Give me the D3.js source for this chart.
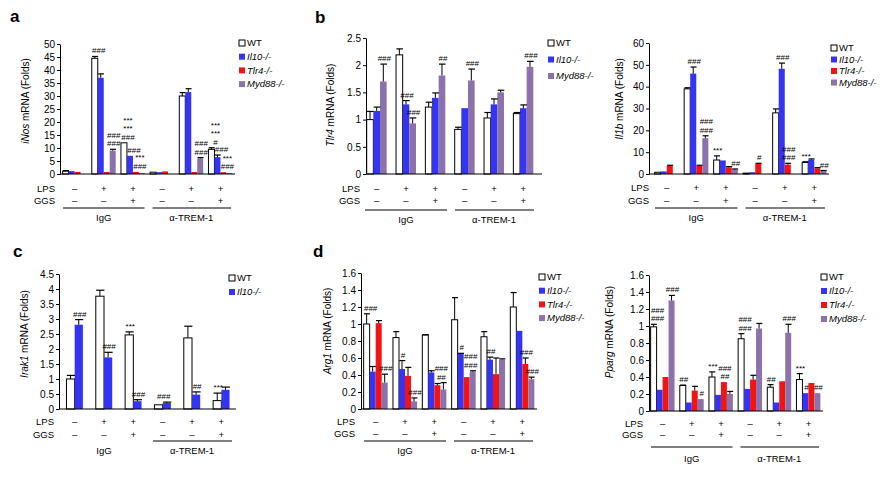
<!DOCTYPE html>
<html><head><meta charset="utf-8">
<script src="https://cdn.jsdelivr.net/npm/d3@7"></script>
<style>body{margin:0;background:#fff} text{font-family:"Liberation Sans",Arial,sans-serif;fill:#000}</style>
</head><body><svg id="chart" width="882" height="480"></svg>
<script>
// ---------- shared categories ----------
const lpsRow = ["–","+","+","–","+","+"];
const ggsRow = ["–","–","+","–","–","+"];
const treatments = ["IgG","α-TREM-1"];
const colors = {"WT":"#ffffff","Il10-/-":"#3434f2","Tlr4-/-":"#f01414","Myd88-/-":"#8b72aa"};

// ---------- a: iNos ----------
const iNosSeries = ["WT","Il10-/-","Tlr4-/-","Myd88-/-"];
const iNosWT    = [1.1, 44.5, 12, 0.7, 30, 9.5];
const iNosWTe   = [0.2, 0.7, 0, 0, 1.3, 0.6];
const iNosIl10  = [1.1, 37, 7, 0.7, 31.5, 6.5];
const iNosIl10e = [0, 1.5, 0, 0, 1.3, 0.8];
const iNosTlr4  = [0.8, 0.8, 0.8, 1.0, 0.8, 0.7];
const iNosTlr4e = [0, 0, 0, 0, 0, 0];
const iNosMyd   = [0, 9, 0.4, 0, 6, 0.4];
const iNosMyde  = [0, 0.5, 0, 0, 0.3, 0];
const iNosMarks = [[1,0.5,["###"]],[1,3,["###","###"]],[2,0.5,["***","***","###"]],[2,1.5,["###"]],[2,2.5,["***","###"]],
                   [4,3,["###","###"]],[5,0.5,["***","***","#"]],[5,1.5,["###"]],[5,2.5,["***","###"]]];

// ---------- b: Tlr4 ----------
const tlr4Series = ["WT","Il10-/-","Myd88-/-"];
const tlr4WT    = [1.0, 2.19, 1.23, 0.82, 1.03, 1.11];
const tlr4WTe   = [0.15, 0.11, 0.09, 0.04, 0.1, 0.02];
const tlr4Il10  = [1.16, 1.28, 1.40, 1.21, 1.28, 1.21];
const tlr4Il10e = [0.07, 0.07, 0.09, 0, 0.1, 0.06];
const tlr4Myd   = [1.70, 0.93, 1.81, 1.72, 1.50, 1.97];
const tlr4Myde  = [0.32, 0.1, 0.21, 0.21, 0.04, 0.1];
const tlr4Marks = [[0,2,["###"]],[1,1,["###"]],[1,2,["###"]],[2,2,["##"]],[3,2,["###"]],[5,2,["###"]]];

// ---------- b: Il1b ----------
const il1bSeries = ["WT","Il10-/-","Tlr4-/-","Myd88-/-"];
const il1bWT    = [0.8, 39, 6.4, 0.4, 28, 5.3];
const il1bWTe   = [0, 0.5, 1.9, 0, 1.8, 0.3];
const il1bIl10  = [1.2, 46, 6.2, 0.8, 48.2, 6.5];
const il1bIl10e = [0, 3, 0, 0, 2.6, 0.4];
const il1bTlr4  = [3.7, 3.7, 3.1, 4.6, 4.3, 2.6];
const il1bTlr4e = [0.3, 0.3, 0.3, 0.3, 0.6, 0.3];
const il1bMyd   = [0, 16.4, 2.1, 0, 0, 1.4];
const il1bMyde  = [0, 1.1, 0.2, 0, 0, 0.2];
const il1bMarks = [[1,1,["###"]],[1,3,["###","###"]],[2,0,["***"]],[2,3,["##"]],[3,2,["#"]],[4,1,["###"]],
                   [4,2,["###","###"]],[5,0,["***"]],[5,3,["##"]]];

// ---------- c: Irak1 ----------
const irakSeries = ["WT","Il10-/-"];
const irakWT    = [1.0, 3.76, 2.47, 0.14, 2.37, 0.28];
const irakWTe   = [0.12, 0.2, 0.1, 0, 0.39, 0.25];
const irakIl10  = [2.81, 1.72, 0.26, 0.20, 0.48, 0.64];
const irakIl10e = [0.17, 0.17, 0.05, 0.03, 0.09, 0.09];
const irakMarks = [[0,1,["###"]],[1,1,["###"]],[2,0,["***"]],[2,1,["###"]],[3,0.5,["###"]],[4,1,["##"]],[5,0,["***"]]];

// ---------- d: Arg1 ----------
const argSeries = ["WT","Il10-/-","Tlr4-/-","Myd88-/-"];
const argWT    = [1.0, 0.84, 0.87, 1.05, 0.85, 1.2];
const argWTe   = [0.12, 0.07, 0.005, 0.26, 0.06, 0.17];
const argIl10  = [0.44, 0.47, 0.43, 0.65, 0.58, 0.92];
const argIl10e = [0.06, 0.1, 0.02, 0.005, 0.03, 0];
const argTlr4  = [1.01, 0.39, 0.28, 0.375, 0.41, 0.53];
const argTlr4e = [0.03, 0.1, 0.02, 0, 0.19, 0.07];
const argMyd   = [0.31, 0.09, 0.23, 0.44, 0.58, 0.35];
const argMyde  = [0.1, 0.04, 0.08, 0.01, 0.01, 0.025];
const argMarks = [[0,0.5,["###"]],[0,3,["###"]],[1,1,["#"]],[1,3,["###"]],[2,2.5,["###","##"]],[3,1,["#"]],
                  [3,2.5,["###","###"]],[4,1,["##"]],[5,2,["###"]],[5,3,["###"]]];

// ---------- d: Pparg ----------
const ppSeries = ["WT","Il10-/-","Tlr4-/-","Myd88-/-"];
const ppWT    = [0.99, 0.3, 0.4, 0.85, 0.28, 0.37];
const ppWTe   = [0.03, 0.005, 0.06, 0.06, 0.03, 0.07];
const ppIl10  = [0.25, 0.1, 0.19, 0.26, 0.1, 0.21];
const ppIl10e = [0, 0, 0, 0, 0, 0];
const ppTlr4  = [0.4, 0.24, 0.34, 0.37, 0.35, 0.33];
const ppTlr4e = [0, 0.05, 0, 0.05, 0, 0];
const ppMyd   = [1.3, 0.14, 0.2, 0.97, 0.92, 0.21];
const ppMyde  = [0.06, 0, 0.03, 0.06, 0.1, 0];
const ppMarks = [[0,0.5,["###","###"]],[0,3,["###"]],[1,0,["##"]],[1,3,["#"]],[2,0,["***"]],[2,2,["###","##"]],
                 [3,0.5,["###","###"]],[4,3,["###"]],[4,0,["##"]],[5,0,["***"]],[5,1,["#"]],[5,3,["##"]]];

// ---------- drawing ----------
const svg = d3.select("#chart");
const FS = 9.5;

function panel(P, L) {
  const g = svg.append("g");
  const n = P.series.length;
  const x = d3.scaleBand().domain(d3.range(6)).range([L.b0, L.b1]).padding(0);
  const bw = x.bandwidth();
  const inner = bw * ({4:0.82, 3:0.68, 2:0.56}[n]);
  const xs = d3.scaleBand().domain(d3.range(n)).range([-inner/2, inner/2]);
  const barW = xs.bandwidth();
  const y = d3.scaleLinear().domain([0, P.yMax]).range([L.yB, L.yT]);
  const center = (gi, si) => x(gi) + bw/2 + xs(si) + barW/2;

  const rows = [];
  P.series.forEach((s, si) => P.values[si].forEach((v, gi) => rows.push({s, si, gi, v, e: P.errors[si][gi]})));

  // bars
  g.selectAll("rect.bar").data(rows.filter(d => d.v > 0)).join("rect")
    .attr("x", d => x(d.gi) + bw/2 + xs(d.si))
    .attr("y", d => y(d.v))
    .attr("width", barW)
    .attr("height", d => y(0) - y(d.v))
    .attr("fill", d => colors[d.s])
    .attr("stroke", d => d.s === "WT" ? "#000" : "none")
    .attr("stroke-width", 1);

  // error bars
  const eb = rows.filter(d => d.e > 0);
  g.selectAll("line.eb").data(eb).join("line")
    .attr("x1", d => center(d.gi, d.si)).attr("x2", d => center(d.gi, d.si))
    .attr("y1", d => y(d.v)).attr("y2", d => y(d.v + d.e))
    .attr("stroke", "#000").attr("stroke-width", 1);
  g.selectAll("line.cap").data(eb).join("line")
    .attr("x1", d => center(d.gi, d.si) - barW*0.45).attr("x2", d => center(d.gi, d.si) + barW*0.55)
    .attr("y1", d => y(d.v + d.e)).attr("y2", d => y(d.v + d.e))
    .attr("stroke", "#000").attr("stroke-width", 1.2);

  // axis
  const nT = Math.round(P.yMax / P.step);
  const tv = d3.range(0, nT + 1).map(i => +(i * P.step).toFixed(3));
  const ax = g.append("g").attr("transform", `translate(${L.ax},0)`)
    .call(d3.axisLeft(y).tickValues(tv).tickSize(3).tickSizeOuter(0).tickFormat(d3.format("~g")));
  ax.select(".domain").attr("stroke", "#000");
  ax.selectAll(".tick line").attr("stroke", "#000");
  ax.selectAll(".tick text").attr("font-size", 10).attr("font-family", "Liberation Sans, Arial, sans-serif").attr("fill", "#000").attr("x", -5);
  g.append("line").attr("x1", L.ax).attr("x2", L.x1).attr("y1", y(0)).attr("y2", y(0)).attr("stroke", "#000");

  // y label
  const yl = g.append("text").attr("transform", `translate(${L.ylx},${L.yly}) rotate(-90)`)
    .attr("text-anchor", "middle").attr("font-size", 10);
  yl.append("tspan").attr("font-style", "italic").text(P.gene);
  yl.append("tspan").text(" mRNA (Folds)");

  // annotations
  P.marks.forEach(([gi, s, lines]) => {
    const s0 = Math.floor(s), s1 = Math.ceil(s), f = s - s0;
    const cx = center(gi, s0) * (1 - f) + center(gi, s1) * f + 1;
    const top = Math.max(P.values[s0][gi] + P.errors[s0][gi], P.values[s1][gi] + P.errors[s1][gi]);
    lines.slice().reverse().forEach((t, k) => {
      g.append("text").attr("x", cx).attr("y", y(top) - 3 - k * 8.5)
        .attr("text-anchor", "middle").attr("font-size", 8).text(t);
    });
  });

  // LPS / GGS rows
  const cxg = gi => x(gi) + bw/2;
  g.append("text").attr("x", L.lr).attr("y", L.lpsY).attr("dy", "0.35em").attr("text-anchor", "end").attr("font-size", FS).text("LPS");
  g.append("text").attr("x", L.lr).attr("y", L.ggsY).attr("dy", "0.35em").attr("text-anchor", "end").attr("font-size", FS).text("GGS");
  g.selectAll("text.lps").data(lpsRow).join("text").attr("x", (d, i) => cxg(i)).attr("y", L.lpsY).attr("dy", "0.35em")
    .attr("text-anchor", "middle").attr("font-size", FS).text(d => d);
  g.selectAll("text.ggs").data(ggsRow).join("text").attr("x", (d, i) => cxg(i)).attr("y", L.ggsY).attr("dy", "0.35em")
    .attr("text-anchor", "middle").attr("font-size", FS).text(d => d);
  const spans = [[x(0) + 3, x(2) + bw - 3], [x(3) + 5, x(5) + bw - 4]];
  treatments.forEach((t, ti) => {
    if (!(L.noIgGLine && ti === 0)) {
      g.append("line").attr("x1", spans[ti][0]).attr("x2", spans[ti][1]).attr("y1", L.ulY).attr("y2", L.ulY).attr("stroke", "#000");
    }
    g.append("text").attr("x", (cxg(ti*3) + cxg(ti*3+2)) / 2).attr("y", L.grpY).attr("dy", "0.35em")
      .attr("text-anchor", "middle").attr("font-size", FS).text(t);
  });

  // legend
  P.series.forEach((s, si) => {
    const ry = L.legY + si * L.legDy;
    g.append("rect").attr("x", L.legX).attr("y", ry - 3).attr("width", 6).attr("height", 6)
      .attr("fill", colors[s]).attr("stroke", s === "WT" ? "#000" : "none");
    g.append("text").attr("x", L.legX + 8).attr("y", ry).attr("dy", "0.35em").attr("font-size", FS)
      .attr("font-style", s === "WT" ? "normal" : "italic").text(s);
  });
}

panel({series: iNosSeries, gene: "iNos", yMax: 50, step: 5,
       values: [iNosWT, iNosIl10, iNosTlr4, iNosMyd], errors: [iNosWTe, iNosIl10e, iNosTlr4e, iNosMyde], marks: iNosMarks},
      {ax: 60, x1: 235, b0: 60, b1: 235, yT: 44, yB: 174, ylx: 29, yly: 101, lr: 55, lpsY: 189, ggsY: 201, ulY: 208, grpY: 218,
       legX: 239, legY: 43, legDy: 13.7});
panel({series: tlr4Series, gene: "Tlr4", yMax: 2.5, step: 0.5,
       values: [tlr4WT, tlr4Il10, tlr4Myd], errors: [tlr4WTe, tlr4Il10e, tlr4Myde], marks: tlr4Marks},
      {ax: 366, x1: 542, b0: 362, b1: 538, yT: 38, yB: 174, ylx: 334, yly: 105, lr: 360, lpsY: 189, ggsY: 201, ulY: 210, grpY: 220,
       legX: 548, legY: 43, legDy: 16.5});
panel({series: il1bSeries, gene: "Il1b", yMax: 60, step: 10,
       values: [il1bWT, il1bIl10, il1bTlr4, il1bMyd], errors: [il1bWTe, il1bIl10e, il1bTlr4e, il1bMyde], marks: il1bMarks},
      {ax: 649, x1: 829, b0: 652, b1: 829, yT: 43, yB: 174, ylx: 623, yly: 99, lr: 649, lpsY: 188, ggsY: 201, ulY: 208, grpY: 218,
       legX: 831, legY: 48, legDy: 11.5});
panel({series: irakSeries, gene: "Irak1", yMax: 4.5, step: 0.5,
       values: [irakWT, irakIl10], errors: [irakWTe, irakIl10e], marks: irakMarks},
      {ax: 59, x1: 236, b0: 60, b1: 236, yT: 274, yB: 409, ylx: 28, yly: 334, lr: 54, lpsY: 422, ggsY: 435, ulY: 441, grpY: 451,
       legX: 229, legY: 278, legDy: 14, noIgGLine: true});
panel({series: argSeries, gene: "Arg1", yMax: 1.6, step: 0.2,
       values: [argWT, argIl10, argTlr4, argMyd], errors: [argWTe, argIl10e, argTlr4e, argMyde], marks: argMarks},
      {ax: 361, x1: 537, b0: 361, b1: 537, yT: 273, yB: 409, ylx: 331, yly: 331, lr: 355, lpsY: 422, ggsY: 434, ulY: 441, grpY: 451,
       legX: 539, legY: 277, legDy: 13.7});
panel({series: ppSeries, gene: "Pparg", yMax: 1.6, step: 0.2,
       values: [ppWT, ppIl10, ppTlr4, ppMyd], errors: [ppWTe, ppIl10e, ppTlr4e, ppMyde], marks: ppMarks},
      {ax: 649, x1: 823, b0: 648, b1: 823, yT: 275, yB: 411, ylx: 613, yly: 332, lr: 643, lpsY: 424, ggsY: 435, ulY: 447, grpY: 459,
       legX: 821, legY: 277, legDy: 14});

// panel letters
[["a", 10, 22], ["b", 315, 23], ["c", 13, 257], ["d", 313, 257]].forEach(([t, lx, ly]) =>
  svg.append("text").attr("x", lx).attr("y", ly).attr("font-size", 17).attr("font-weight", "bold").text(t));
</script>
</body></html>
